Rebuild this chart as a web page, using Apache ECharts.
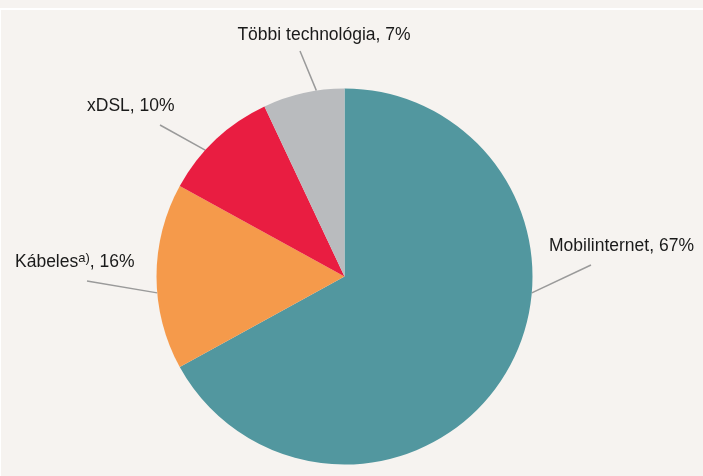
<!DOCTYPE html>
<html lang="hu">
<head>
    <meta charset="UTF-8">
    <title>Internet-előfizetések technológia szerint</title>
    <script src="https://cdn.jsdelivr.net/npm/echarts@6/dist/echarts.min.js"></script>
    <style>
        html, body {
            margin: 0;
            padding: 0;
            background: #f6f3f0;
        }
        #chart {
            width: 703px;
            height: 476px;
        }
    </style>
</head>
<body>
<div id="chart"></div>
<script>
    // adatok
    var categories = ['Mobilinternet', 'Kábeles', 'xDSL', 'Többi technológia'];
    var shares = [67, 16, 10, 7];
    var colors = ['#52979f', '#f59a4b', '#e91d41', '#b9bbbe'];

    // címkék helye (szöveg + vezetővonal), pixelben
    var labelPos = [
        {x: 549, y: 246, align: 'left',   angle: -5,    end: [591, 265]},
        {x: 15,  y: 262, align: 'left',   angle: 185,   end: [87, 281]},
        {x: 87,  y: 106, align: 'left',   angle: 137.8, end: [160, 125]},
        {x: 324, y: 35,  align: 'center', angle: 98.6,  end: [300, 51]}
    ];
    var center = [344.5, 276.5];
    var radius = 188;
    var font = 'Liberation Sans, Arial, sans-serif';

    var data = categories.map(function (name, i) {
        return {name: name, value: shares[i], itemStyle: {color: colors[i]}};
    });

    var myChart = echarts.init(document.getElementById('chart'));
    var option = {
        backgroundColor: '#f6f3f0',
        animation: false,
        graphic: [
            {type: 'rect', shape: {x: 0, y: 8, width: 703, height: 2}, style: {fill: '#ffffff'}, silent: true},
            {type: 'rect', shape: {x: 0, y: 8, width: 1, height: 468}, style: {fill: '#ffffff'}, silent: true}
        ],
        series: [{
            type: 'pie',
            center: center,
            radius: radius,
            startAngle: 90,
            clockwise: true,
            data: data,
            itemStyle: {borderWidth: 0},
            label: {
                show: true,
                overflow: 'none',
                color: '#1a1a1a',
                fontFamily: font,
                fontSize: 17.5,
                formatter: function (p) {
                    if (p.dataIndex === 1) {
                        return '{n|' + p.name + '}{s|a)}{n|, ' + p.value + '%}';
                    }
                    return '{n|' + p.name + ', ' + p.value + '%}';
                },
                rich: {
                    n: {
                        fontFamily: font,
                        fontSize: 17.5,
                        lineHeight: 20,
                        color: '#1a1a1a'
                    },
                    s: {
                        fontFamily: font,
                        fontSize: 13,
                        lineHeight: 13,
                        verticalAlign: 'top',
                        color: '#1a1a1a'
                    }
                }
            },
            labelLine: {
                show: true,
                length: 20,
                length2: 0,
                lineStyle: {color: '#9a9a9a', width: 1.5}
            },
            labelLayout: function (params) {
                var lp = labelPos[params.dataIndex];
                var a = lp.angle * Math.PI / 180;
                var start = [center[0] + radius * Math.cos(a), center[1] - radius * Math.sin(a)];
                return {
                    x: lp.x,
                    y: lp.y,
                    align: lp.align,
                    verticalAlign: 'middle',
                    labelLinePoints: [start, lp.end]
                };
            }
        }]
    };
    myChart.setOption(option);
</script>
</body>
</html>
